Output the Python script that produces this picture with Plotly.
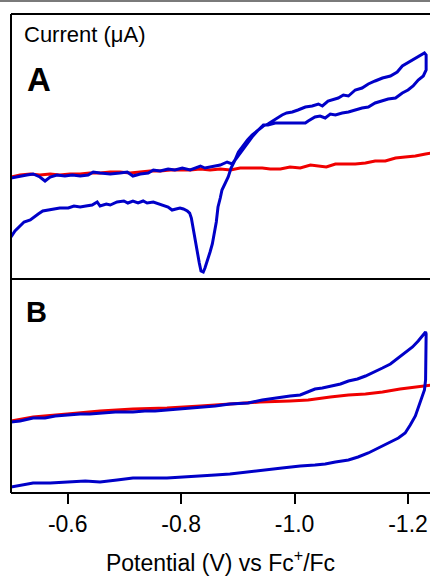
import plotly.graph_objects as go

# ---- Panel A: cyclic voltammogram (blue) and blank electrolyte (red) ----
potential_a_blue = [
    -0.500, -0.516, -0.528, -0.539, -0.551, -0.560, -0.569, -0.581, -0.595, -0.608,
    -0.622, -0.636, -0.645, -0.657, -0.675, -0.692, -0.705, -0.715, -0.728, -0.742,
    -0.751, -0.763, -0.777, -0.789, -0.802, -0.816, -0.825, -0.834, -0.842, -0.851,
    -0.860, -0.869, -0.881, -0.890, -0.899, -0.908, -0.917,
    -0.925, -0.936, -0.945, -0.953, -0.961, -0.969, -0.978, -0.986, -0.996, -1.006,
    -1.019, -1.031, -1.042, -1.049, -1.059, -1.077, -1.086, -1.095, -1.107, -1.119,
    -1.130, -1.142, -1.155, -1.169, -1.181, -1.190, -1.199, -1.206, -1.213, -1.222,
    -1.229,
    -1.232, -1.232,
    -1.227, -1.218, -1.209, -1.200, -1.190, -1.178, -1.165, -1.155, -1.142, -1.130,
    -1.119, -1.107, -1.095, -1.084, -1.072, -1.063, -1.054, -1.045, -1.036, -1.024,
    -1.019, -0.992, -0.966, -0.953, -0.945, -0.936, -0.925, -0.917, -0.908, -0.901,
    -0.895, -0.888, -0.883, -0.878, -0.872, -0.869, -0.865, -0.862, -0.858, -0.855,
    -0.851, -0.846, -0.842, -0.839, -0.835, -0.832, -0.828, -0.825, -0.822, -0.818,
    -0.815, -0.811, -0.804, -0.798, -0.791, -0.784, -0.777, -0.768, -0.759, -0.751,
    -0.740, -0.733, -0.724, -0.715, -0.706, -0.699, -0.687, -0.675, -0.668, -0.657,
    -0.652, -0.643, -0.632, -0.622, -0.611, -0.601, -0.586, -0.576, -0.565, -0.556,
    -0.548, -0.541, -0.534, -0.523, -0.516, -0.507, -0.500,
]
current_a_blue = [
    -0.03, -0.01, 0.00, 0.01, -0.02, -0.06, -0.02, 0.00, -0.01, 0.00,
    -0.01, 0.00, 0.03, 0.02, 0.01, 0.02, 0.03, -0.01, 0.01, 0.02,
    0.05, 0.04, 0.06, 0.05, 0.07, 0.05, 0.07, 0.09, 0.07, 0.08,
    0.09, 0.10, 0.13, 0.11, 0.18, 0.25, 0.33,
    0.38, 0.45, 0.49, 0.51, 0.54, 0.57, 0.60, 0.62, 0.63, 0.65,
    0.68, 0.69, 0.71, 0.69, 0.74, 0.77, 0.80, 0.79, 0.85, 0.87,
    0.91, 0.94, 0.97, 0.99, 1.03, 1.09, 1.12, 1.14, 1.17, 1.20,
    1.22,
    1.20, 1.05,
    0.99, 0.95, 0.89, 0.85, 0.82, 0.77, 0.76, 0.74, 0.72, 0.68,
    0.67, 0.65, 0.63, 0.62, 0.60, 0.61, 0.57, 0.59, 0.58, 0.54,
    0.52, 0.52, 0.52, 0.50, 0.50, 0.45, 0.40, 0.35, 0.28, 0.23,
    0.15, 0.07, -0.02, -0.08, -0.15, -0.23, -0.32, -0.47, -0.60, -0.69,
    -0.77, -0.87, -0.93, -0.97, -0.96, -0.88, -0.75, -0.63, -0.53, -0.43,
    -0.38, -0.36, -0.34, -0.33, -0.34, -0.35, -0.32, -0.30, -0.28, -0.27,
    -0.28, -0.26, -0.28, -0.26, -0.28, -0.26, -0.27, -0.30, -0.29, -0.31,
    -0.27, -0.30, -0.31, -0.32, -0.31, -0.33, -0.33, -0.34, -0.35, -0.36,
    -0.39, -0.42, -0.45, -0.47, -0.51, -0.56, -0.62,
]

potential_a_red = [
    -0.500, -0.516, -0.534, -0.551, -0.569, -0.586, -0.604, -0.622, -0.639, -0.657,
    -0.675, -0.692, -0.710, -0.728, -0.745, -0.763, -0.781, -0.798, -0.816, -0.834,
    -0.851, -0.869, -0.887, -0.904, -0.922, -0.943, -0.957, -0.975, -0.992, -1.010,
    -1.028, -1.042, -1.056, -1.072, -1.089, -1.107, -1.125, -1.142, -1.160, -1.178,
    -1.195, -1.213, -1.231, -1.243,
]
current_a_red = [
    -0.02, 0.00, 0.01, 0.00, 0.01, 0.00, 0.01, 0.01, 0.02, 0.02,
    0.03, 0.03, 0.02, 0.03, 0.04, 0.04, 0.05, 0.05, 0.05, 0.06,
    0.05, 0.06, 0.05, 0.07, 0.07, 0.07, 0.06, 0.06, 0.08, 0.07,
    0.10, 0.09, 0.08, 0.11, 0.11, 0.11, 0.12, 0.14, 0.14, 0.17,
    0.18, 0.19, 0.21, 0.22,
]

# ---- Panel B ----
potential_b_blue = [
    -0.500, -0.516, -0.539, -0.560, -0.578, -0.599, -0.622, -0.639, -0.657, -0.684,
    -0.701, -0.715, -0.736, -0.754, -0.775, -0.798, -0.816, -0.834, -0.860, -0.886,
    -0.918, -0.943, -0.966, -0.992, -1.010, -1.024, -1.036, -1.049, -1.066, -1.081,
    -1.095, -1.111, -1.125, -1.141, -1.155, -1.169, -1.183, -1.197, -1.208, -1.218,
    -1.227, -1.231,
    -1.232, -1.232, -1.232, -1.231, -1.229, -1.225, -1.220, -1.213, -1.204, -1.195,
    -1.183, -1.165, -1.148, -1.130, -1.112, -1.095, -1.072, -1.054, -1.036, -1.010,
    -0.978, -0.948, -0.918, -0.886, -0.860, -0.834, -0.804, -0.775, -0.745, -0.715,
    -0.687, -0.657, -0.631, -0.599, -0.569, -0.539, -0.516, -0.500,
]
current_b_blue = [
    -0.07, -0.06, -0.03, -0.03, -0.01, 0.00, 0.01, 0.01, 0.02, 0.03,
    0.03, 0.03, 0.04, 0.04, 0.05, 0.06, 0.07, 0.08, 0.09, 0.11,
    0.12, 0.15, 0.17, 0.19, 0.20, 0.23, 0.26, 0.27, 0.29, 0.31,
    0.34, 0.36, 0.39, 0.43, 0.47, 0.51, 0.57, 0.63, 0.68, 0.74,
    0.80, 0.83,
    0.81, 0.65, 0.50, 0.35, 0.25, 0.18, 0.09, -0.01, -0.10, -0.18,
    -0.23, -0.28, -0.33, -0.38, -0.42, -0.45, -0.47, -0.49, -0.50, -0.51,
    -0.53, -0.55, -0.57, -0.59, -0.60, -0.61, -0.62, -0.63, -0.63, -0.63,
    -0.65, -0.67, -0.66, -0.67, -0.68, -0.68, -0.70, -0.72,
]

potential_b_red = [
    -0.500, -0.539, -0.599, -0.657, -0.715, -0.775, -0.834, -0.886, -0.939, -0.992,
    -1.024, -1.063, -1.095, -1.125, -1.155, -1.186, -1.213, -1.243,
]
current_b_red = [
    -0.06, -0.02, 0.01, 0.04, 0.06, 0.07, 0.09, 0.11, 0.13, 0.14,
    0.15, 0.18, 0.20, 0.21, 0.23, 0.26, 0.28, 0.30,
]

tick_values = [-0.6, -0.8, -1.0, -1.2]
tick_labels = ["-0.6", "-0.8", "-1.0", "-1.2"]

BLUE = "#0000C8"
RED = "#F00000"
FONT = "Arial, Liberation Sans, sans-serif"
LW = 3

fig = go.Figure()
fig.add_trace(go.Scatter(x=potential_a_red, y=current_a_red, mode="lines",
                         line=dict(color=RED, width=LW), xaxis="x2", yaxis="y2"))
fig.add_trace(go.Scatter(x=potential_a_blue, y=current_a_blue, mode="lines",
                         line=dict(color=BLUE, width=LW), xaxis="x2", yaxis="y2"))
fig.add_trace(go.Scatter(x=potential_b_red, y=current_b_red, mode="lines",
                         line=dict(color=RED, width=LW), xaxis="x", yaxis="y"))
fig.add_trace(go.Scatter(x=potential_b_blue, y=current_b_blue, mode="lines",
                         line=dict(color=BLUE, width=LW), xaxis="x", yaxis="y"))

split = 214 / 479
x_range = [-0.5, -1.2388]

fig.update_layout(
    width=430, height=576,
    margin=dict(l=11, r=0, t=14, b=83, pad=0),
    paper_bgcolor="white", plot_bgcolor="white",
    showlegend=False,
    font=dict(family=FONT, size=23, color="black"),
    xaxis=dict(domain=[0, 1], anchor="y", range=x_range,
               tickmode="array", tickvals=tick_values, ticktext=tick_labels,
               ticks="outside", ticklen=10, tickwidth=2, tickcolor="black",
               showgrid=False, zeroline=False, showline=False,
               tickfont=dict(family=FONT, size=23, color="black"),
               title=dict(text="Potential (V) vs Fc<sup>+</sup>/Fc",
                          font=dict(family=FONT, size=23, color="black"),
                          standoff=20)),
    yaxis=dict(domain=[0, split], anchor="x", range=[-0.78, 1.36],
               showticklabels=False, ticks="", showgrid=False,
               zeroline=False, showline=False),
    xaxis2=dict(domain=[0, 1], anchor="y2", range=x_range, matches="x",
                showticklabels=False, ticks="", showgrid=False,
                zeroline=False, showline=False),
    yaxis2=dict(domain=[split, 1], anchor="x2", range=[-1.04, 1.61],
                showticklabels=False, ticks="", showgrid=False,
                zeroline=False, showline=False),
)

# frame lines: left edge, top, panel separator, bottom
frame = dict(color="black", width=2)
fig.add_shape(type="line", xref="paper", yref="paper", x0=0, x1=0, y0=0, y1=1, line=frame)
fig.add_shape(type="line", xref="paper", yref="paper", x0=0, x1=1, y0=1, y1=1, line=frame)
fig.add_shape(type="line", xref="paper", yref="paper", x0=0, x1=1, y0=split, y1=split, line=frame)
fig.add_shape(type="line", xref="paper", yref="paper", x0=0, x1=1, y0=0, y1=0, line=frame)
# thin grey rule along the very top of the page
fig.add_shape(type="line", xref="paper", yref="paper", x0=-11 / 419, x1=1.05,
              y0=1 + 13 / 479, y1=1 + 13 / 479, line=dict(color="#7a7a7a", width=2))

fig.add_annotation(text="Current (μA)", xref="paper", yref="paper",
                   x=11 / 419, y=1 - 21 / 479, xanchor="left", yanchor="middle",
                   showarrow=False, font=dict(family=FONT, size=22, color="black"))
fig.add_annotation(text="<b>A</b>", xref="paper", yref="paper",
                   x=14 / 419, y=1 - 65 / 479, xanchor="left", yanchor="middle",
                   showarrow=False, font=dict(family=FONT, size=33, color="black"))
fig.add_annotation(text="<b>B</b>", xref="paper", yref="paper",
                   x=13 / 419, y=1 - 298 / 479, xanchor="left", yanchor="middle",
                   showarrow=False, font=dict(family=FONT, size=29, color="black"))

fig.write_html("out.html")
